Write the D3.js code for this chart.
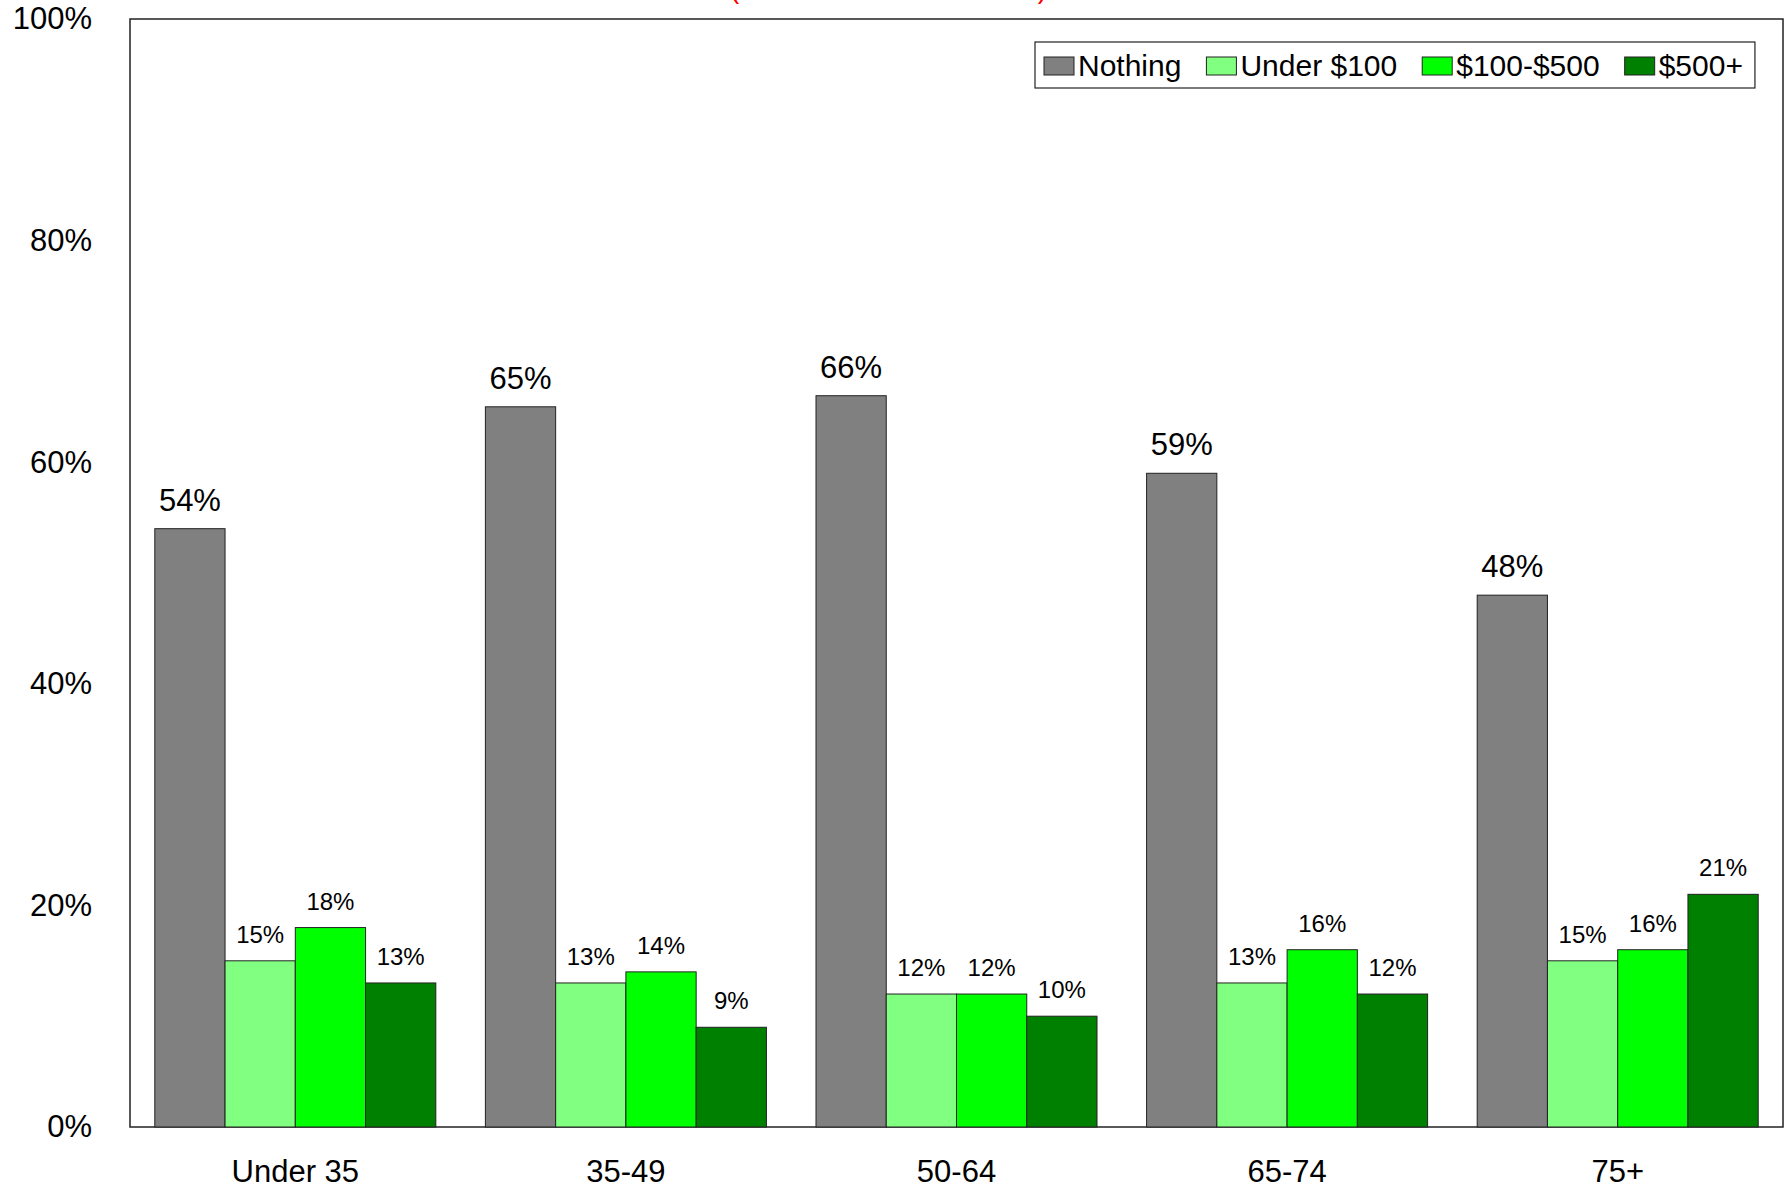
<!DOCTYPE html>
<html>
<head>
<meta charset="utf-8">
<script src="https://cdnjs.cloudflare.com/ajax/libs/d3/7.8.5/d3.min.js"></script>
<style>
  body { margin: 0; background: #fff; }
  svg { font-family: "Liberation Sans", Arial, sans-serif; }
</style>
</head>
<body>
<svg id="chart" width="1788" height="1188"></svg>
<script>
// age groups along the x axis
let groups = ['Under 35', '35-49', '50-64', '65-74', '75+']
let series = ['Nothing', 'Under $100', '$100-$500', '$500+']

// percent of people per group, one array per series
let nothing = [54, 65, 66, 59, 48]
let under100 = [15, 13, 12, 13, 15]
let from100to500 = [18, 14, 12, 16, 16]
let over500 = [13, 9, 10, 12, 21]

let yTicks = [0, 20, 40, 60, 80, 100]
let colors = ['#808080', '#80ff80', '#00ff00', '#008000']

let values = [nothing, under100, from100to500, over500]

let svg = d3.select("#chart")
let plotLeft = 130, plotRight = 1783, plotTop = 19, plotBottom = 1127

// red title, pushed mostly above the page edge
svg.append("text")
    .attr("x", 730)
    .attr("y", -2)
    .attr("font-size", "30px")
    .attr("fill", "#ff0000")
    .attr("textLength", 317)
    .attr("lengthAdjust", "spacingAndGlyphs")
    .text("(Amount Given Last Year)")

let x0 = d3.scaleBand()
    .domain(groups)
    .range([plotLeft, plotRight])
    .paddingInner(0.15)
    .paddingOuter(0.075)

let x1 = d3.scaleBand()
    .domain(series)
    .range([0, x0.bandwidth()])

let y = d3.scaleLinear()
    .domain([0, 100])
    .range([plotBottom, plotTop])

// plot frame
svg.append("rect")
    .attr("x", plotLeft)
    .attr("y", plotTop)
    .attr("width", plotRight - plotLeft)
    .attr("height", plotBottom - plotTop)
    .attr("fill", "none")
    .attr("stroke", "#222")
    .attr("stroke-width", 1.5)

// y axis labels
let yAxis = svg.append("g")
    .attr("transform", "translate(" + plotLeft + ",0)")
    .call(d3.axisLeft(y).tickValues(yTicks).tickSize(0).tickPadding(38).tickFormat(d => d + "%"))
yAxis.select(".domain").remove()
yAxis.selectAll("text")
    .attr("font-size", "31px")
    .attr("font-family", "Liberation Sans, Arial, sans-serif")
    .attr("fill", "#000")

// x axis labels
let xAxis = svg.append("g")
    .attr("transform", "translate(0," + plotBottom + ")")
    .call(d3.axisBottom(x0).tickSize(0))
xAxis.select(".domain").remove()
xAxis.selectAll("text")
    .attr("y", 55)
    .attr("dy", 0)
    .attr("font-size", "31px")
    .attr("font-family", "Liberation Sans, Arial, sans-serif")
    .attr("fill", "#000")

// bars
let rows = []
groups.forEach(function (g, gi) {
    series.forEach(function (s, si) {
        rows.push({ group: g, series: s, si: si, value: values[si][gi] })
    })
})

let bars = svg.append("g")
bars.selectAll("rect")
    .data(rows)
    .enter()
    .append("rect")
    .attr("x", d => x0(d.group) + x1(d.series))
    .attr("y", d => y(d.value))
    .attr("width", x1.bandwidth())
    .attr("height", d => y(0) - y(d.value))
    .attr("fill", d => colors[d.si])
    .attr("stroke", "#222")
    .attr("stroke-width", 1)

bars.selectAll("text")
    .data(rows)
    .enter()
    .append("text")
    .attr("x", d => x0(d.group) + x1(d.series) + x1.bandwidth() / 2)
    .attr("y", d => y(d.value) - 18)
    .attr("text-anchor", "middle")
    .attr("font-size", d => d.si == 0 ? "31px" : "24px")
    .attr("fill", "#000")
    .text(d => d.value + "%")

// legend
let legend = svg.append("g")
let legendBox = legend.append("rect")
    .attr("x", 1035)
    .attr("y", 42)
    .attr("height", 46)
    .attr("fill", "#fff")
    .attr("stroke", "#222")
    .attr("stroke-width", 1.2)

let lx = 1044
series.forEach(function (s, i) {
    legend.append("rect")
        .attr("x", lx)
        .attr("y", 57)
        .attr("width", 30)
        .attr("height", 18)
        .attr("fill", colors[i])
        .attr("stroke", "#222")
        .attr("stroke-width", 1)
    let t = legend.append("text")
        .attr("x", lx + 34)
        .attr("y", 76)
        .attr("font-size", "30px")
        .attr("fill", "#000")
        .text(s)
    lx = lx + 34 + t.node().getComputedTextLength() + 25
})
legendBox.attr("width", lx - 25 + 12 - 1035)
</script>
</body>
</html>
